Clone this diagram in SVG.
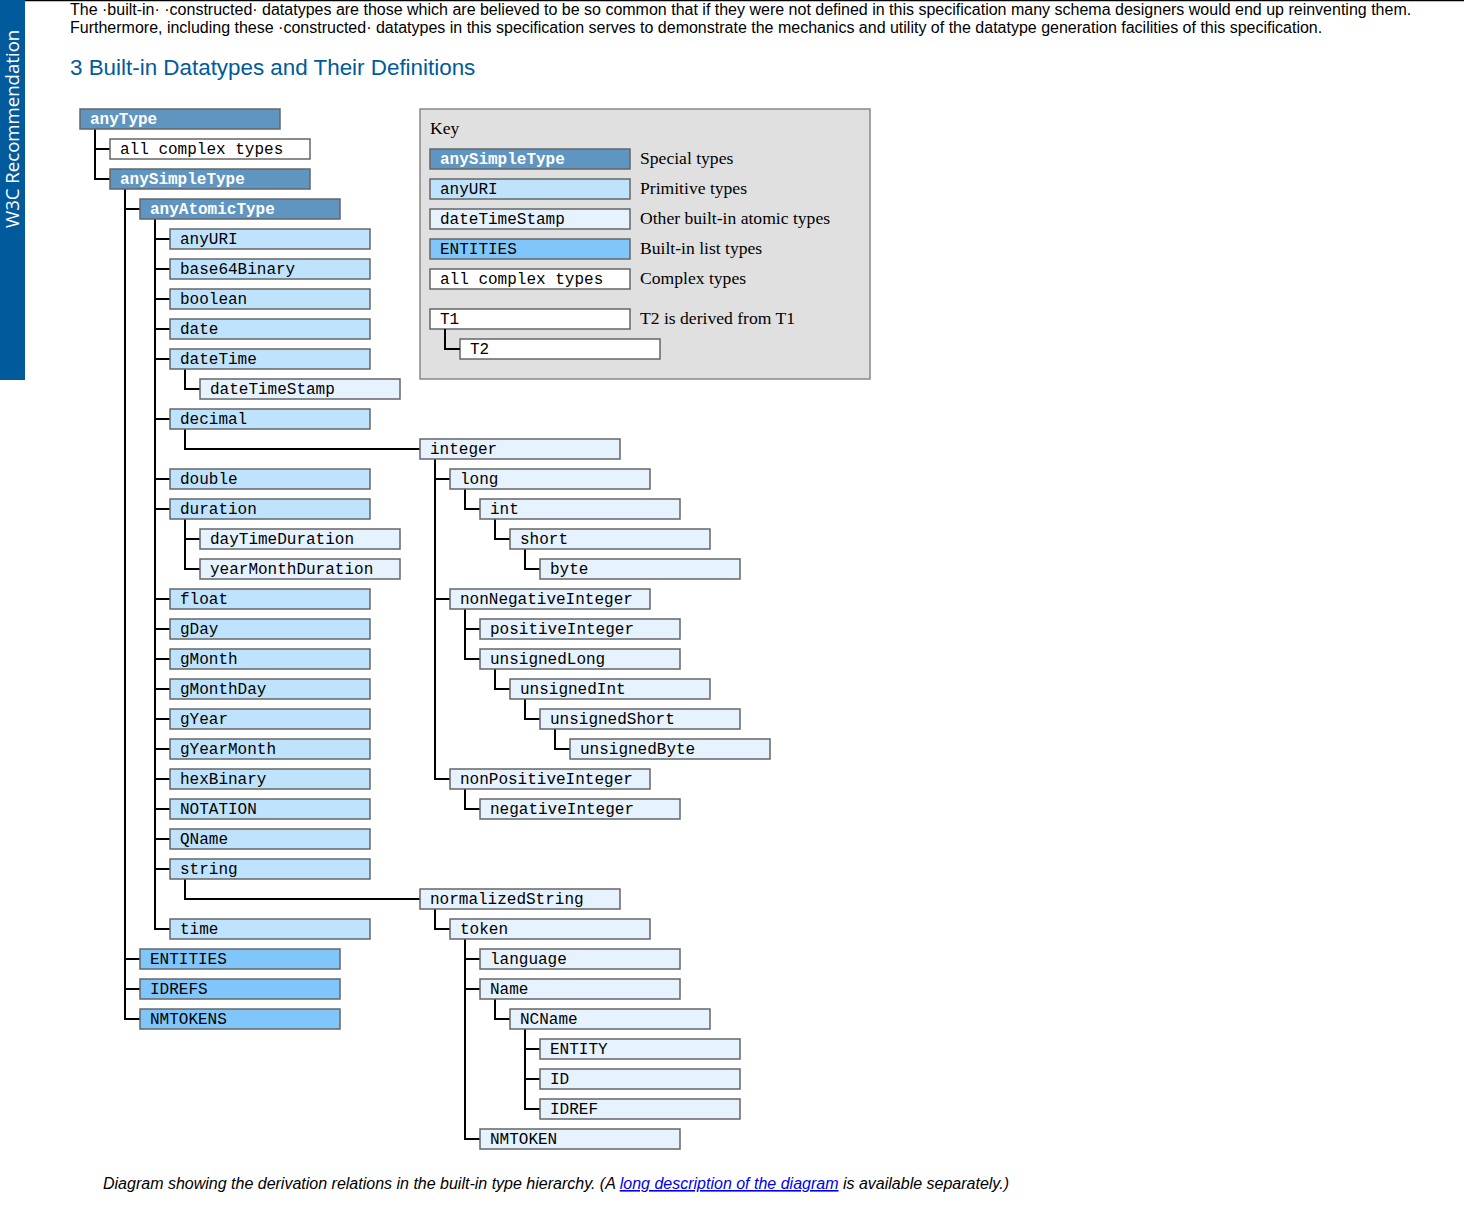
<svg xmlns="http://www.w3.org/2000/svg" width="1464" height="1206" viewBox="0 0 1464 1206">
<style>
.n rect{stroke:#666;stroke-width:1.5}
.sp rect{fill:#5f95c1}
.pr rect{fill:#bfe3fd}
.ot rect{fill:#e6f2fd}
.li rect{fill:#80c6fb}
.cx rect{fill:#ffffff}
.n text{font-family:"Liberation Mono","Courier New",monospace;font-size:16px;fill:#000}
.sp text{font-weight:bold;fill:#fff}
.c path{fill:none;stroke:#000;stroke-width:2}
.body{font-family:"Liberation Sans",Arial,sans-serif;font-size:16px;fill:#000}
.kl{font-family:"Liberation Serif",serif;font-size:17.6px;fill:#000}
</style>
<rect x="0" y="0" width="1464" height="1206" fill="#fff"/>
<line x1="25" y1="0.5" x2="1464" y2="0.5" stroke="#000" stroke-width="1.5"/>
<rect x="0" y="0" width="25" height="380" fill="#005a9c"/>
<text transform="translate(19,228) rotate(-90)" font-family="'Open Sans',sans-serif" font-size="18.6" fill="#fff">W3C Recommendation</text>
<text class="body" x="70" y="15">The ·built-in· ·constructed· datatypes are those which are believed to be so common that if they were not defined in this specification many schema designers would end up reinventing them.</text>
<text class="body" x="70" y="33">Furthermore, including these ·constructed· datatypes in this specification serves to demonstrate the mechanics and utility of the datatype generation facilities of this specification.</text>
<text x="70" y="75" font-family="'Liberation Sans',Arial,sans-serif" font-size="22.4" fill="#005a9c">3 Built-in Datatypes and Their Definitions</text>

<g id="key">
<rect x="420" y="109" width="450" height="270" fill="#e0e0e0" stroke="#888" stroke-width="1.5"/>
<text class="kl" x="430" y="134">Key</text>
<g class="n sp"><rect x="430" y="149" width="200" height="20"/><text x="440" y="164">anySimpleType</text></g>
<g class="n pr"><rect x="430" y="179" width="200" height="20"/><text x="440" y="194">anyURI</text></g>
<g class="n ot"><rect x="430" y="209" width="200" height="20"/><text x="440" y="224">dateTimeStamp</text></g>
<g class="n li"><rect x="430" y="239" width="200" height="20"/><text x="440" y="254">ENTITIES</text></g>
<g class="n cx"><rect x="430" y="269" width="200" height="20"/><text x="440" y="284">all complex types</text></g>
<g class="n cx"><rect x="430" y="309" width="200" height="20"/><text x="440" y="324">T1</text></g>
<g class="n cx"><rect x="460" y="339" width="200" height="20"/><text x="470" y="354">T2</text></g>
<g class="c"><path d="M445,329V349H460"/></g>
<text class="kl" x="640" y="164">Special types</text>
<text class="kl" x="640" y="194">Primitive types</text>
<text class="kl" x="640" y="224">Other built-in atomic types</text>
<text class="kl" x="640" y="254">Built-in list types</text>
<text class="kl" x="640" y="284">Complex types</text>
<text class="kl" x="640" y="324">T2 is derived from T1</text>
</g>

<g id="connectors" class="c">
<path d="M95,129V179H110M95,149H110"/>
<path d="M125,189V1019H140M125,209H140M125,959H140M125,989H140"/>
<path d="M155,219V929H170M155,239H170M155,269H170M155,299H170M155,329H170M155,359H170M155,419H170M155,479H170M155,509H170M155,599H170M155,629H170M155,659H170M155,689H170M155,719H170M155,749H170M155,779H170M155,809H170M155,839H170M155,869H170"/>
<path d="M185,369V389H200"/>
<path d="M185,429V449H420"/>
<path d="M185,519V569H200M185,539H200"/>
<path d="M185,879V899H420"/>
<path d="M435,459V779H450M435,479H450M435,599H450"/>
<path d="M465,489V509H480"/>
<path d="M495,519V539H510"/>
<path d="M525,549V569H540"/>
<path d="M465,609V659H480M465,629H480"/>
<path d="M495,669V689H510"/>
<path d="M525,699V719H540"/>
<path d="M555,729V749H570"/>
<path d="M465,789V809H480"/>
<path d="M435,909V929H450"/>
<path d="M465,939V1139H480M465,959H480M465,989H480"/>
<path d="M495,999V1019H510"/>
<path d="M525,1029V1109H540M525,1049H540M525,1079H540"/>
</g>

<g id="anyType" class="n sp"><rect x="80" y="109" width="200" height="20"/><text x="90" y="124">anyType</text></g>
<g id="allComplexTypes" class="n cx"><rect x="110" y="139" width="200" height="20"/><text x="120" y="154">all complex types</text></g>
<g id="anySimpleType" class="n sp"><rect x="110" y="169" width="200" height="20"/><text x="120" y="184">anySimpleType</text></g>
<g id="anyAtomicType" class="n sp"><rect x="140" y="199" width="200" height="20"/><text x="150" y="214">anyAtomicType</text></g>
<g id="anyURI" class="n pr"><rect x="170" y="229" width="200" height="20"/><text x="180" y="244">anyURI</text></g>
<g id="base64Binary" class="n pr"><rect x="170" y="259" width="200" height="20"/><text x="180" y="274">base64Binary</text></g>
<g id="boolean" class="n pr"><rect x="170" y="289" width="200" height="20"/><text x="180" y="304">boolean</text></g>
<g id="date" class="n pr"><rect x="170" y="319" width="200" height="20"/><text x="180" y="334">date</text></g>
<g id="dateTime" class="n pr"><rect x="170" y="349" width="200" height="20"/><text x="180" y="364">dateTime</text></g>
<g id="dateTimeStamp" class="n ot"><rect x="200" y="379" width="200" height="20"/><text x="210" y="394">dateTimeStamp</text></g>
<g id="decimal" class="n pr"><rect x="170" y="409" width="200" height="20"/><text x="180" y="424">decimal</text></g>
<g id="integer" class="n ot"><rect x="420" y="439" width="200" height="20"/><text x="430" y="454">integer</text></g>
<g id="double" class="n pr"><rect x="170" y="469" width="200" height="20"/><text x="180" y="484">double</text></g>
<g id="long" class="n ot"><rect x="450" y="469" width="200" height="20"/><text x="460" y="484">long</text></g>
<g id="duration" class="n pr"><rect x="170" y="499" width="200" height="20"/><text x="180" y="514">duration</text></g>
<g id="int" class="n ot"><rect x="480" y="499" width="200" height="20"/><text x="490" y="514">int</text></g>
<g id="dayTimeDuration" class="n ot"><rect x="200" y="529" width="200" height="20"/><text x="210" y="544">dayTimeDuration</text></g>
<g id="short" class="n ot"><rect x="510" y="529" width="200" height="20"/><text x="520" y="544">short</text></g>
<g id="yearMonthDuration" class="n ot"><rect x="200" y="559" width="200" height="20"/><text x="210" y="574">yearMonthDuration</text></g>
<g id="byte" class="n ot"><rect x="540" y="559" width="200" height="20"/><text x="550" y="574">byte</text></g>
<g id="float" class="n pr"><rect x="170" y="589" width="200" height="20"/><text x="180" y="604">float</text></g>
<g id="nonNegativeInteger" class="n ot"><rect x="450" y="589" width="200" height="20"/><text x="460" y="604">nonNegativeInteger</text></g>
<g id="gDay" class="n pr"><rect x="170" y="619" width="200" height="20"/><text x="180" y="634">gDay</text></g>
<g id="positiveInteger" class="n ot"><rect x="480" y="619" width="200" height="20"/><text x="490" y="634">positiveInteger</text></g>
<g id="gMonth" class="n pr"><rect x="170" y="649" width="200" height="20"/><text x="180" y="664">gMonth</text></g>
<g id="unsignedLong" class="n ot"><rect x="480" y="649" width="200" height="20"/><text x="490" y="664">unsignedLong</text></g>
<g id="gMonthDay" class="n pr"><rect x="170" y="679" width="200" height="20"/><text x="180" y="694">gMonthDay</text></g>
<g id="unsignedInt" class="n ot"><rect x="510" y="679" width="200" height="20"/><text x="520" y="694">unsignedInt</text></g>
<g id="gYear" class="n pr"><rect x="170" y="709" width="200" height="20"/><text x="180" y="724">gYear</text></g>
<g id="unsignedShort" class="n ot"><rect x="540" y="709" width="200" height="20"/><text x="550" y="724">unsignedShort</text></g>
<g id="gYearMonth" class="n pr"><rect x="170" y="739" width="200" height="20"/><text x="180" y="754">gYearMonth</text></g>
<g id="unsignedByte" class="n ot"><rect x="570" y="739" width="200" height="20"/><text x="580" y="754">unsignedByte</text></g>
<g id="hexBinary" class="n pr"><rect x="170" y="769" width="200" height="20"/><text x="180" y="784">hexBinary</text></g>
<g id="nonPositiveInteger" class="n ot"><rect x="450" y="769" width="200" height="20"/><text x="460" y="784">nonPositiveInteger</text></g>
<g id="NOTATION" class="n pr"><rect x="170" y="799" width="200" height="20"/><text x="180" y="814">NOTATION</text></g>
<g id="negativeInteger" class="n ot"><rect x="480" y="799" width="200" height="20"/><text x="490" y="814">negativeInteger</text></g>
<g id="QName" class="n pr"><rect x="170" y="829" width="200" height="20"/><text x="180" y="844">QName</text></g>
<g id="string" class="n pr"><rect x="170" y="859" width="200" height="20"/><text x="180" y="874">string</text></g>
<g id="normalizedString" class="n ot"><rect x="420" y="889" width="200" height="20"/><text x="430" y="904">normalizedString</text></g>
<g id="time" class="n pr"><rect x="170" y="919" width="200" height="20"/><text x="180" y="934">time</text></g>
<g id="token" class="n ot"><rect x="450" y="919" width="200" height="20"/><text x="460" y="934">token</text></g>
<g id="ENTITIES" class="n li"><rect x="140" y="949" width="200" height="20"/><text x="150" y="964">ENTITIES</text></g>
<g id="language" class="n ot"><rect x="480" y="949" width="200" height="20"/><text x="490" y="964">language</text></g>
<g id="IDREFS" class="n li"><rect x="140" y="979" width="200" height="20"/><text x="150" y="994">IDREFS</text></g>
<g id="Name" class="n ot"><rect x="480" y="979" width="200" height="20"/><text x="490" y="994">Name</text></g>
<g id="NMTOKENS" class="n li"><rect x="140" y="1009" width="200" height="20"/><text x="150" y="1024">NMTOKENS</text></g>
<g id="NCName" class="n ot"><rect x="510" y="1009" width="200" height="20"/><text x="520" y="1024">NCName</text></g>
<g id="ENTITY" class="n ot"><rect x="540" y="1039" width="200" height="20"/><text x="550" y="1054">ENTITY</text></g>
<g id="ID" class="n ot"><rect x="540" y="1069" width="200" height="20"/><text x="550" y="1084">ID</text></g>
<g id="IDREF" class="n ot"><rect x="540" y="1099" width="200" height="20"/><text x="550" y="1114">IDREF</text></g>
<g id="NMTOKEN" class="n ot"><rect x="480" y="1129" width="200" height="20"/><text x="490" y="1144">NMTOKEN</text></g>

<text x="103" y="1189" font-family="'Liberation Sans',Arial,sans-serif" font-size="16" font-style="italic" fill="#000">Diagram showing the derivation relations in the built-in type hierarchy. (A <tspan fill="#0000ee" text-decoration="underline">long description of the diagram</tspan> is available separately.)</text>
</svg>
